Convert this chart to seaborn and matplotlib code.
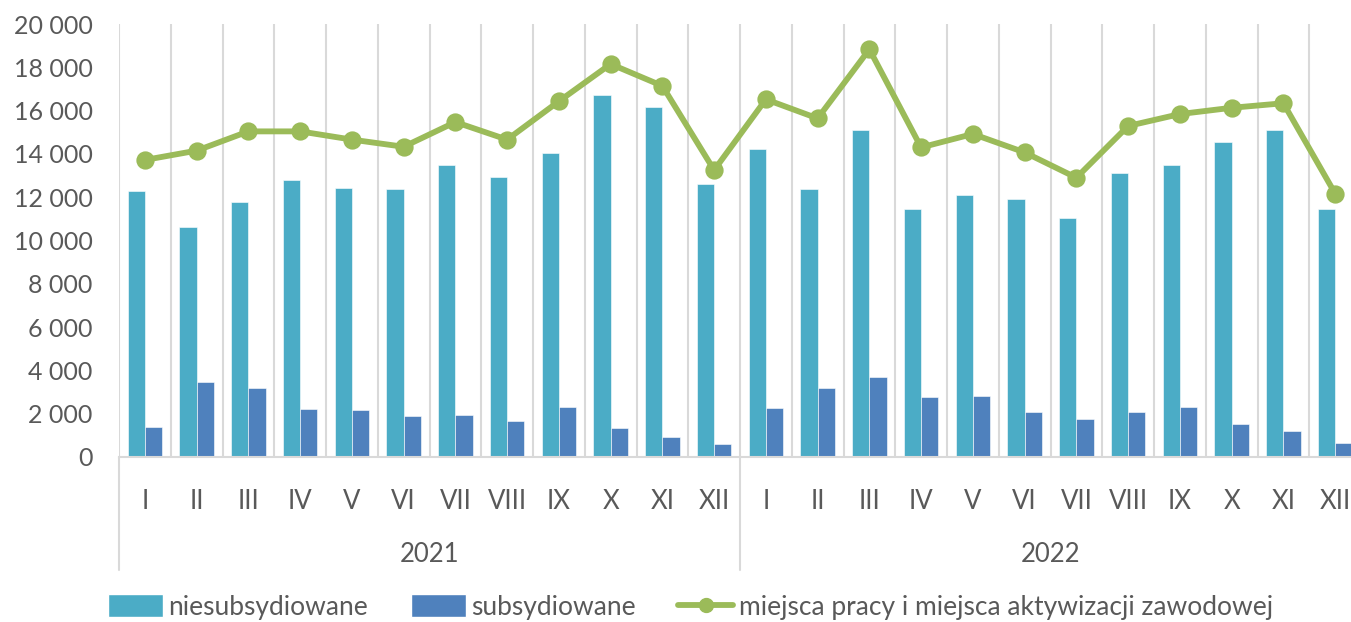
import matplotlib
matplotlib.use('Agg')
import pandas as pd
import numpy as np
import matplotlib.pyplot as plt
import matplotlib.transforms as mtransforms
from matplotlib.patches import Patch
from matplotlib.lines import Line2D
import seaborn as sns

months = ["I", "II", "III", "IV", "V", "VI", "VII", "VIII", "IX", "X", "XI", "XII"]
years = ["2021", "2022"]

niesub = [12270, 10620, 11770, 12790, 12440, 12370, 13500, 12930, 14040, 16700, 16170, 12600,
          14220, 12370, 15100, 11470, 12080, 11930, 11060, 13110, 13480, 14550, 15100, 11470]
sub = [1400, 3470, 3210, 2200, 2160, 1900, 1930, 1680, 2330, 1360, 930, 590,
       2250, 3210, 3680, 2770, 2810, 2100, 1770, 2100, 2330, 1510, 1200, 650]
miejsca = [13720, 14150, 15040, 15040, 14660, 14330, 15470, 14660, 16430, 18150, 17140, 13250,
           16520, 15640, 18830, 14300, 14920, 14070, 12900, 15290, 15840, 16130, 16340, 12170]

lab_nie = "niesubsydiowane"
lab_sub = "subsydiowane"
lab_line = "miejsca pracy i miejsca aktywizacji zawodowej"

c_nie = "#4BACC6"
c_sub = "#4F81BD"
c_line = "#9BBB59"
txt = "#595959"
grid = "#D9D9D9"

sns.set_style("white")
plt.rcParams['font.family'] = ['Lato', 'DejaVu Sans']

keys = [y + "-" + m for y in years for m in months]
df = pd.DataFrame({"okres": keys * 2,
                   "wartosc": niesub + sub,
                   "typ": [lab_nie] * 24 + [lab_sub] * 24})
dl = pd.DataFrame({"okres": keys, "wartosc": miejsca})

fig = plt.figure(figsize=(13.51, 6.22), dpi=100)
ax = fig.add_axes([119 / 1351, 1 - 457 / 622, 1242 / 1351, 433 / 622])

sns.barplot(data=df, x="okres", y="wartosc", hue="typ", order=keys,
            palette=[c_nie, c_sub], width=0.67, saturation=1, ax=ax,
            legend=False, edgecolor="white", linewidth=0.4)
sns.pointplot(data=dl, x="okres", y="wartosc", order=keys, color=c_line,
              markers="o", markersize=10, linewidth=4.2, ax=ax, errorbar=None)

ax.set_xlim(-0.5, 23.5)
ax.set_ylim(0, 20000)
ax.set_xlabel("")
ax.set_ylabel("")
for s in ["top", "right", "left"]:
    ax.spines[s].set_visible(False)
ax.spines["bottom"].set_color(grid)
ax.spines["bottom"].set_linewidth(1.5)

# vertical separators between categories
for xb in np.arange(-0.5, 24, 1):
    ax.axvline(xb, color=grid, lw=1.5, zorder=0)

yt = np.arange(0, 20001, 2000)
ax.set_yticks(yt)
ax.set_yticklabels([f"{v:,}".replace(",", " ") for v in yt], fontsize=18, color=txt)
ax.set_xticks(range(24))
ax.set_xticklabels(months * 2, fontsize=18.5, color=txt)
ax.tick_params(axis="both", length=0)
ax.tick_params(axis="x", pad=23)
ax.tick_params(axis="y", pad=19)

trans = mtransforms.blended_transform_factory(ax.transData, ax.transAxes)
for xb in [-0.5, 11.5]:
    ax.plot([xb, xb], [0, -0.262], color=grid, lw=1.5, transform=trans, clip_on=False)
for i, y in enumerate(years):
    ax.text(5.5 + 12 * i, -0.225, y, transform=trans, ha="center", va="center",
            fontsize=18.5, color=txt)

handles = [Patch(facecolor=c_nie, label=lab_nie),
           Patch(facecolor=c_sub, label=lab_sub),
           Line2D([0], [0], color=c_line, lw=4.2, marker="o", markersize=10, label=lab_line)]
fig.legend(handles=handles, loc="center", bbox_to_anchor=(0.511, 1 - 607 / 622), ncol=3,
           frameon=False, fontsize=19, handlelength=2.1, handleheight=0.95,
           columnspacing=1.6, handletextpad=0.2, labelcolor=txt)

fig.savefig("out.png", dpi=100)
